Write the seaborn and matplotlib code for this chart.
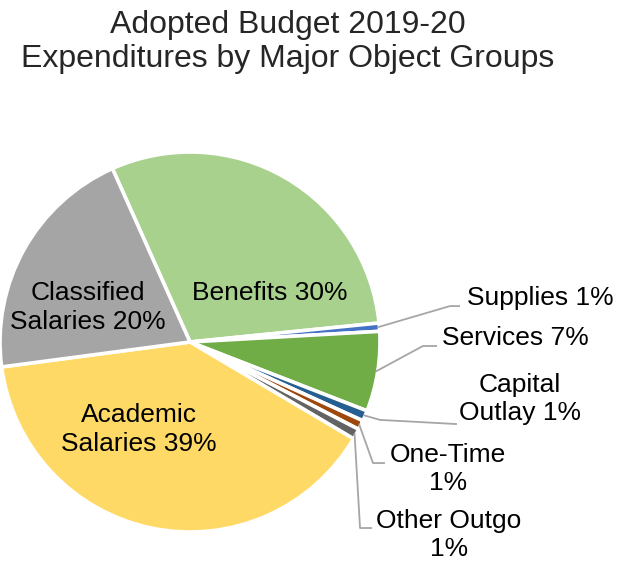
import matplotlib
matplotlib.use("Agg")
import matplotlib.pyplot as plt
import numpy as np
import seaborn as sns

# data (percent of total)
categories = ["Benefits", "Supplies", "Services", "Capital Outlay", "One-Time",
              "Other Outgo", "Academic Salaries", "Classified Salaries"]
values = [30.1, 0.7, 6.8, 0.9, 0.8, 0.9, 39.4, 20.4]
label_names = ["Benefits", "Supplies", "Services", "Capital\nOutlay", "One-Time",
               "Other Outgo", "Academic\nSalaries", "Classified\nSalaries"]
label_seps = [" ", " ", " ", " ", "\n", "\n", " ", " "]
colors = ["#A9D18E", "#4472C4", "#70AD47", "#255E91", "#9E480E",
          "#636363", "#FFD966", "#A5A5A5"]

# label layout (data units, pie radius = 1)
inside = {"Benefits": (0.42, 0.26), "Classified Salaries": (-0.54, 0.18),
          "Academic Salaries": (-0.27, -0.46)}
outside = {  # text pos, ha, elbow, line end
    "Supplies": ((1.46, 0.232), "left", (1.368, 0.189), (1.421, 0.189)),
    "Services": ((1.326, 0.021), "left", (1.226, -0.021), (1.30, -0.021)),
    "Capital Outlay": ((1.737, -0.30), "center", (1.0, -0.41), (1.405, -0.432)),
    "One-Time": ((1.358, -0.668), "center", (0.963, -0.637), (1.026, -0.637)),
    "Other Outgo": ((1.363, -1.016), "center", (0.895, -0.979), (0.958, -0.979)),
}

sns.set_theme(style="white")
plt.rcParams["font.family"] = ["Liberation Sans", "DejaVu Sans"]

fig = plt.figure(figsize=(6.2, 5.61), dpi=100)
ax = fig.add_axes([0, 0, 1, 1])

wedges, _ = ax.pie(values, colors=colors, startangle=114.1, counterclock=False,
                   wedgeprops=dict(edgecolor="white", linewidth=2.6))
ax.set_xlim(-1.0, 430 / 190)
ax.set_ylim(-219 / 190, 342 / 190)
ax.axis("off")

total = sum(values)
for w, cat, name, sep, v in zip(wedges, categories, label_names, label_seps, values):
    text = f"{name}{sep}{round(v / total * 100)}%"
    if cat in inside:
        x, y = inside[cat]
        ax.text(x, y, text, ha="center", va="center", fontsize=19,
                linespacing=1.25, color="black")
    else:
        (tx, ty), ha, elbow, end = outside[cat]
        mid = np.deg2rad((w.theta1 + w.theta2) / 2)
        start = (np.cos(mid) * 0.99, np.sin(mid) * 0.99)
        ax.plot([start[0], elbow[0], end[0]], [start[1], elbow[1], end[1]],
                color="#A6A6A6", lw=1.3, solid_capstyle="butt")
        ax.text(tx, ty, text, ha=ha, va="center", fontsize=19,
                linespacing=1.25, color="black")

fig.text(0.4645, 0.925, "Adopted Budget 2019-20\nExpenditures by Major Object Groups",
         ha="center", va="center", fontsize=23, linespacing=1.2)

fig.savefig("out.png", dpi=100)
